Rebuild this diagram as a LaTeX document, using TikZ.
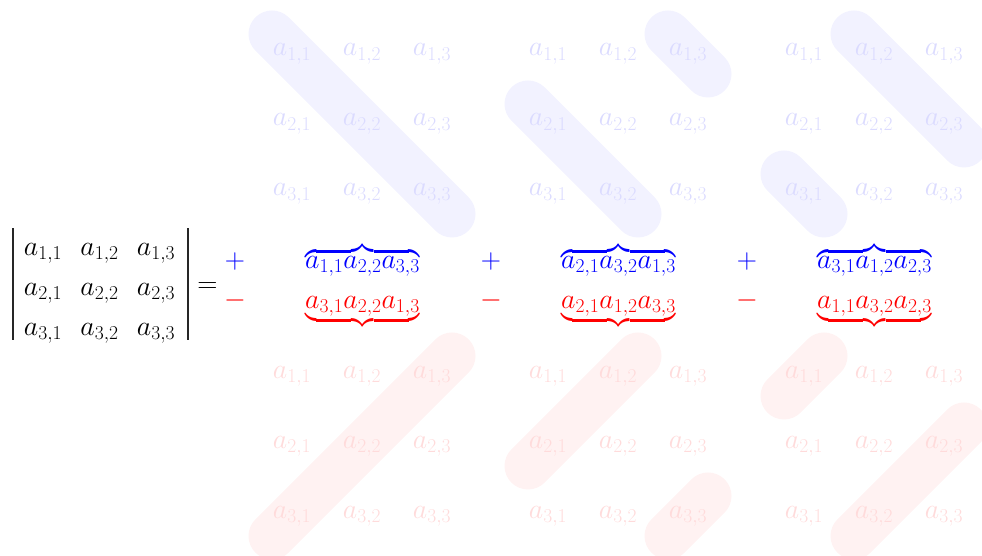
\RequirePackage{fix-cm}
\documentclass[tikz,border=0pt]{standalone}
\usepackage{amsmath}
\usetikzlibrary{calc}
\pgfdeclarelayer{bg}
\pgfsetlayers{bg,main}
\begin{document}
\begin{tikzpicture}[x=1pt,y=-1pt,
  every node/.style={inner sep=0pt, font=\fontsize{28}{33}\selectfont},
  bgblue/.style={anchor=base, text=blue!14},
  bgred/.style={anchor=base, text=red!14},
  stripblue/.style={draw=blue!5, line width=47pt, line cap=round},
  stripred/.style={draw=red!5, line width=47pt, line cap=round},
  entry/.style={anchor=base},
  plusstyle/.style={anchor=base, text=blue},
  minusstyle/.style={anchor=base, text=red},
  bar/.style={line width=1.3pt, draw=black!85, line cap=butt}]
\useasboundingbox (0,0) rectangle (982,556);

% background matrices
\foreach \g in {0,1,2}{
  \foreach \r in {1,2,3}{
    \foreach \c in {1,2,3}{
      \node[bgblue] (b\g-\r-\c) at ({292+256*\g+70*(\c-1)},{56+70*(\r-1)}) {$a_{\r,\c}$};
      \node[bgred] (r\g-\r-\c) at ({292+256*\g+70*(\c-1)},{378+70*(\r-1)}) {$a_{\r,\c}$};
    }
  }
}

\begin{pgfonlayer}{bg}
  % blue strips (main diagonals)
  \draw[stripblue] ($(b0-1-1.center)+(-20,-20)$) -- ($(b0-3-3.center)+(20,20)$);
  \draw[stripblue] ($(b1-2-1.center)+(-20,-20)$) -- ($(b1-3-2.center)+(20,20)$);
  \draw[stripblue] ($(b1-1-3.center)+(-20,-20)$) -- ($(b1-1-3.center)+(20,20)$);
  \draw[stripblue] ($(b2-1-2.center)+(-20,-20)$) -- ($(b2-2-3.center)+(20,20)$);
  \draw[stripblue] ($(b2-3-1.center)+(-20,-20)$) -- ($(b2-3-1.center)+(20,20)$);
  % red strips (anti-diagonals)
  \draw[stripred] ($(r0-3-1.center)+(-20,20)$) -- ($(r0-1-3.center)+(20,-20)$);
  \draw[stripred] ($(r1-2-1.center)+(-20,20)$) -- ($(r1-1-2.center)+(20,-20)$);
  \draw[stripred] ($(r1-3-3.center)+(-20,20)$) -- ($(r1-3-3.center)+(20,-20)$);
  \draw[stripred] ($(r2-1-1.center)+(-20,20)$) -- ($(r2-1-1.center)+(20,-20)$);
  \draw[stripred] ($(r2-3-2.center)+(-20,20)$) -- ($(r2-2-3.center)+(20,-20)$);
\end{pgfonlayer}

% determinant
\foreach \r/\y in {1/255,2/295,3/335}{
  \foreach \c/\x in {1/43,2/99.5,3/156}{
    \node[entry] (m-\r-\c) at (\x,\y) {$a_{\r,\c}$};
  }
}
\coordinate (lt) at (13,228);
\coordinate (lb) at (13,340);
\coordinate (rt) at (188,228);
\coordinate (rb) at (188,340);
\draw[bar] (lt) -- (lb);
\draw[bar] (rt) -- (rb);
\node[entry] (eq) at (207.5,292) {$=$};

% signs
\foreach \i/\x in {0/235,1/491,2/747}{
  \node[plusstyle] (plus\i) at (\x,268) {$+$};
  \node[minusstyle] (minus\i) at (\x,307) {$-$};
}

% products
\node[entry, text=blue] (P0) at (362.5,268) {$\overbrace{a_{1,1}a_{2,2}a_{3,3}}$};
\node[entry, text=blue] (P1) at (618.5,268) {$\overbrace{a_{2,1}a_{3,2}a_{1,3}}$};
\node[entry, text=blue] (P2) at (874.5,268) {$\overbrace{a_{3,1}a_{1,2}a_{2,3}}$};
\node[entry, text=red] (N0) at (362.5,308) {$\underbrace{a_{3,1}a_{2,2}a_{1,3}}$};
\node[entry, text=red] (N1) at (618.5,308) {$\underbrace{a_{2,1}a_{1,2}a_{3,3}}$};
\node[entry, text=red] (N2) at (874.5,308) {$\underbrace{a_{1,1}a_{3,2}a_{2,3}}$};
\end{tikzpicture}
\end{document}
